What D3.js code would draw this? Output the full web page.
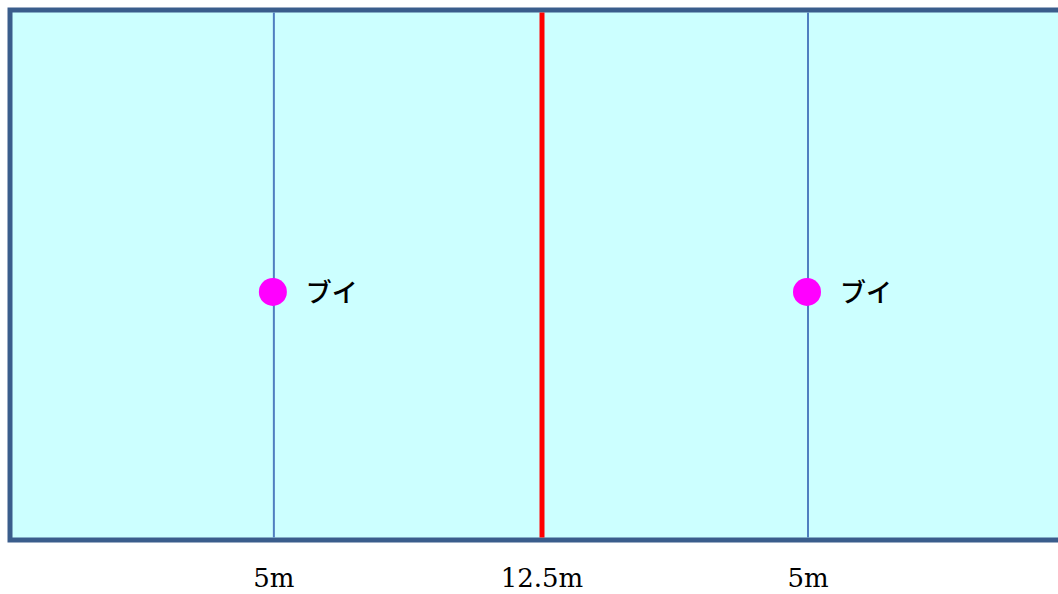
<!DOCTYPE html>
<html><head><meta charset="utf-8">
<script src="https://cdn.jsdelivr.net/npm/d3@7"></script>
<style>html,body{margin:0;padding:0;background:#fff;overflow:hidden}</style>
</head><body>
<svg id="c" width="1058" height="594"></svg>
<script>
// data (metres along the pool, relative height across the pool)
const poolLength = 25;
const centerLine = 12.5;
const buoyX = [6.2, 18.75];
const buoyY = [0.468, 0.468];
const buoyLabels = ["ブイ", "ブイ"];
const tickPos = [6.2, 12.5, 18.75];
const tickLabels = ["5m", "12.5m", "5m"];

const svg = d3.select("#c");
const x = d3.scaleLinear().domain([0, poolLength]).range([10, 1074]);
const y = d3.scaleLinear().domain([0, 1]).range([540, 10]);

// pool
svg.append("rect")
  .attr("x", x(0)).attr("y", y(1))
  .attr("width", x(poolLength) - x(0)).attr("height", y(0) - y(1))
  .attr("fill", "#ccffff").attr("stroke", "#3a5d8c").attr("stroke-width", 5);

// buoy lines
svg.selectAll("line.b").data(buoyX).join("line")
  .attr("class", "b")
  .attr("x1", d => x(d)).attr("x2", d => x(d))
  .attr("y1", y(1) + 2.5).attr("y2", y(0) - 2.5)
  .attr("stroke", "#4f7fc0").attr("stroke-width", 2);

// centre line
svg.append("line")
  .attr("x1", x(centerLine)).attr("x2", x(centerLine))
  .attr("y1", y(1) + 2.5).attr("y2", y(0) - 2.5)
  .attr("stroke", "#ff0000").attr("stroke-width", 5);

// buoys
svg.selectAll("circle").data(buoyX).join("circle")
  .attr("cx", d => x(d) - 1).attr("cy", (d, i) => y(buoyY[i]))
  .attr("r", 14).attr("fill", "#ff00ff");

svg.selectAll("text.bl").data(buoyX).join("text")
  .attr("class", "bl")
  .attr("x", d => x(d) + 32).attr("y", (d, i) => y(buoyY[i]) + 10)
  .attr("font-family", "'Noto Sans CJK JP', sans-serif")
  .attr("font-size", 26).attr("font-weight", 500).attr("fill", "#000")
  .text((d, i) => buoyLabels[i]);

// bottom labels
svg.selectAll("text.t").data(tickPos).join("text")
  .attr("class", "t")
  .attr("x", d => x(d)).attr("y", 587)
  .attr("text-anchor", "middle")
  .attr("font-family", "'DejaVu Serif', serif")
  .attr("font-size", 26).attr("fill", "#000")
  .text((d, i) => tickLabels[i]);
</script>
</body></html>
